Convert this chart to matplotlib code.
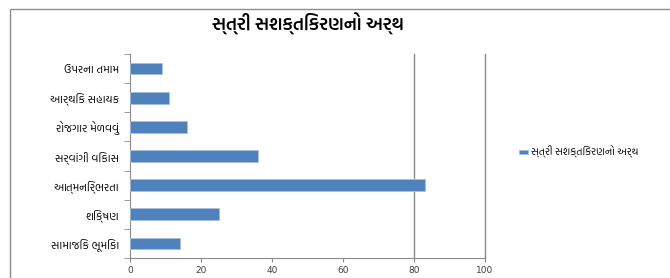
import matplotlib
matplotlib.use("Agg")
from matplotlib import pyplot as plt
from matplotlib.patches import Rectangle
import numpy as np

plt.rcParams['font.family'] = ['Hind Vadodara', 'Noto Sans Gujarati', 'FreeSerif', 'DejaVu Sans']

title = "સ્ત્રી સશક્તિકરણનો અર્થ"
series_name = "સ્ત્રી સશક્તિકરણનો અર્થ"
categories = ["સામાજિક ભૂમિકા", "શિક્ષણ", "આત્મનિર્ભરતા", "સર્વાંગી વિકાસ",
              "રોજગાર મેળવવું", "આર્થિક સહાયક", "ઉપરના તમામ"]
values = [14, 25, 83, 36, 16, 11, 9]
xticks = [0, 20, 40, 60, 80, 100]

fig = plt.figure(figsize=(6.7, 2.78), dpi=100)
# outer chart border (only top and left visible in reference)
fig.patches.append(Rectangle((10 / 670, -0.1), 1.2, 1.1 - 9 / 278,
                             transform=fig.transFigure, fill=False,
                             ec='#8c8c8c', lw=1.0))

ax = fig.add_axes([130 / 670, 20 / 278, 355 / 670, 204 / 278])
y = np.arange(len(categories))
ax.barh(y, values, height=0.4, color='#4f81bd', edgecolor='#a7c0de', lw=0.6,
        label=series_name, zorder=3)

ax.set_xlim(0, 100)
ax.set_ylim(-0.5, len(categories) - 0.5)
ax.set_xticks(xticks)
ax.set_xticklabels([str(v) for v in xticks], fontsize=6.5, color='#404040',
                   family='DejaVu Sans')
ax.set_yticks(y)
ax.set_yticklabels(categories, fontsize=8)
ax.tick_params(axis='y', length=0, pad=8)
ax.set_yticks(np.arange(-0.5, len(categories), 1), minor=True)
ax.tick_params(axis='y', which='minor', length=4, color='#8c8c8c', direction='out')
ax.tick_params(axis='x', length=3, color='#8c8c8c', direction='out', pad=3)

for v in [80, 100]:
    ax.axvline(v, color='#8c8c8c', lw=1.0, zorder=1, clip_on=False)

for s in ['top', 'right']:
    ax.spines[s].set_visible(False)
for s in ['left', 'bottom']:
    ax.spines[s].set_color('#8c8c8c')

fig.text(308 / 670, 1 - 24 / 278, title, ha='center', va='center', fontsize=13,
         fontweight='semibold')

ax.legend(loc='center left', bbox_to_anchor=(1.07, 0.52), frameon=False,
          fontsize=7.5, handlelength=0.8, handleheight=0.3, handletextpad=0.3)

fig.savefig("out.png", dpi=100)
